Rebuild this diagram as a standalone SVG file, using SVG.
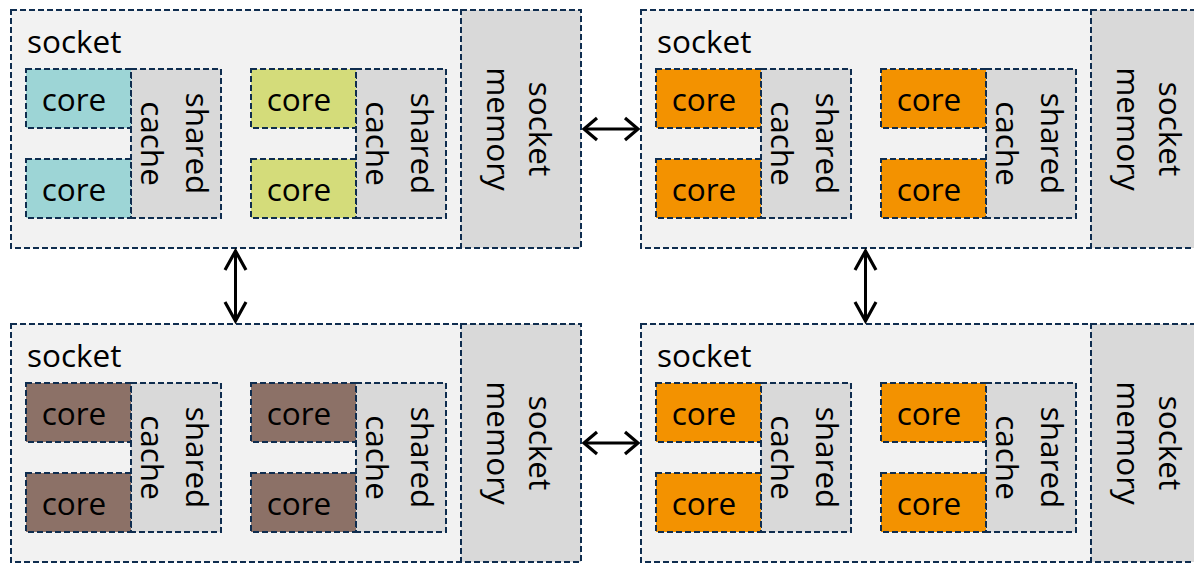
<svg xmlns="http://www.w3.org/2000/svg" width="1194" height="563" viewBox="0 0 1194 563">
  <style>
    .box { stroke: #0f2d4f; stroke-width: 2; stroke-dasharray: 6 3; }
    .sock { fill: #f2f2f2; }
    .grey { fill: #d9d9d9; }
    .teal { fill: #9dd5d6; }
    .lime { fill: #d4dc7a; }
    .brown { fill: #8c7167; }
    .orange { fill: #f39200; }
    text { font-family: "Open Sans", "Noto Sans", sans-serif; font-size: 31.5px; fill: #000; }
    .mid { text-anchor: middle; }
    .link { stroke: #000; stroke-width: 3; fill: none; }
    .h { marker-start: url(#head-h); marker-end: url(#head-h); }
    .v { marker-start: url(#head-v); marker-end: url(#head-v); }
  </style>
  <defs>
    <marker id="head-h" markerUnits="userSpaceOnUse" viewBox="-20 -14 24 28" refX="0" refY="0" markerWidth="24" markerHeight="28" orient="auto-start-reverse" overflow="visible">
      <path d="M-13,-11 L0,0 L-13,11" fill="none" stroke="#000" stroke-width="3.2"/>
    </marker>
    <marker id="head-v" markerUnits="userSpaceOnUse" viewBox="-24 -14 28 28" refX="0" refY="0" markerWidth="28" markerHeight="28" orient="auto-start-reverse" overflow="visible">
      <path d="M-19,-10.5 L0,0 L-19,10.5" fill="none" stroke="#000" stroke-width="3.2"/>
    </marker>
    <!-- two cores sharing one cache; fill class of the cores set per socket -->
    <g id="pair-frame">
      <rect class="box grey" x="131" y="69" width="90" height="149"/>
      <g transform="translate(185.5,143.5) rotate(90)"><text class="mid" x="0" y="0">shared</text></g>
      <g transform="translate(140.5,143.5) rotate(90)"><text class="mid" x="0" y="0">cache</text></g>
    </g>
    <g id="core-labels">
      <text class="mid" x="74" y="110.5">core</text>
      <text class="mid" x="74" y="200.5">core</text>
    </g>
    <g id="socket-frame">
      <rect class="box sock" x="11" y="10" width="570" height="238"/>
      <rect class="box grey" x="461" y="10" width="120" height="238"/>
      <text x="27" y="52.5">socket</text>
      <g transform="translate(529,129) rotate(90)"><text class="mid" x="0" y="0">socket</text></g>
      <g transform="translate(487,129) rotate(90)"><text class="mid" x="0" y="0">memory</text></g>
    </g>
  </defs>

  <!-- upper-left socket -->
  <g id="socket-top-left">
    <use href="#socket-frame"/>
    <g id="tl-pair-a">
      <use href="#pair-frame"/>
      <rect class="box teal" x="26" y="69" width="105" height="59"/>
      <rect class="box teal" x="26" y="159" width="105" height="59"/>
      <use href="#core-labels"/>
    </g>
    <g id="tl-pair-b" transform="translate(225,0)">
      <use href="#pair-frame"/>
      <rect class="box lime" x="26" y="69" width="105" height="59"/>
      <rect class="box lime" x="26" y="159" width="105" height="59"/>
      <use href="#core-labels"/>
    </g>
  </g>

  <!-- upper-right socket -->
  <g id="socket-top-right" transform="translate(630,0)">
    <use href="#socket-frame"/>
    <g id="tr-pair-a">
      <use href="#pair-frame"/>
      <rect class="box orange" x="26" y="69" width="105" height="59"/>
      <rect class="box orange" x="26" y="159" width="105" height="59"/>
      <use href="#core-labels"/>
    </g>
    <g id="tr-pair-b" transform="translate(225,0)">
      <use href="#pair-frame"/>
      <rect class="box orange" x="26" y="69" width="105" height="59"/>
      <rect class="box orange" x="26" y="159" width="105" height="59"/>
      <use href="#core-labels"/>
    </g>
  </g>

  <!-- lower-left socket -->
  <g id="socket-bottom-left" transform="translate(0,314)">
    <use href="#socket-frame"/>
    <g id="bl-pair-a">
      <use href="#pair-frame"/>
      <rect class="box brown" x="26" y="69" width="105" height="59"/>
      <rect class="box brown" x="26" y="159" width="105" height="59"/>
      <use href="#core-labels"/>
    </g>
    <g id="bl-pair-b" transform="translate(225,0)">
      <use href="#pair-frame"/>
      <rect class="box brown" x="26" y="69" width="105" height="59"/>
      <rect class="box brown" x="26" y="159" width="105" height="59"/>
      <use href="#core-labels"/>
    </g>
  </g>

  <!-- lower-right socket -->
  <g id="socket-bottom-right" transform="translate(630,314)">
    <use href="#socket-frame"/>
    <g id="br-pair-a">
      <use href="#pair-frame"/>
      <rect class="box orange" x="26" y="69" width="105" height="59"/>
      <rect class="box orange" x="26" y="159" width="105" height="59"/>
      <use href="#core-labels"/>
    </g>
    <g id="br-pair-b" transform="translate(225,0)">
      <use href="#pair-frame"/>
      <rect class="box orange" x="26" y="69" width="105" height="59"/>
      <rect class="box orange" x="26" y="159" width="105" height="59"/>
      <use href="#core-labels"/>
    </g>
  </g>

  <!-- interconnect links between sockets -->
  <g id="links">
    <line class="link h" x1="584" y1="129" x2="638" y2="129"/>
    <line class="link h" x1="584" y1="443" x2="638" y2="443"/>
    <line class="link v" x1="235.5" y1="251" x2="235.5" y2="321"/>
    <line class="link v" x1="865.5" y1="251" x2="865.5" y2="321"/>
  </g>
</svg>
